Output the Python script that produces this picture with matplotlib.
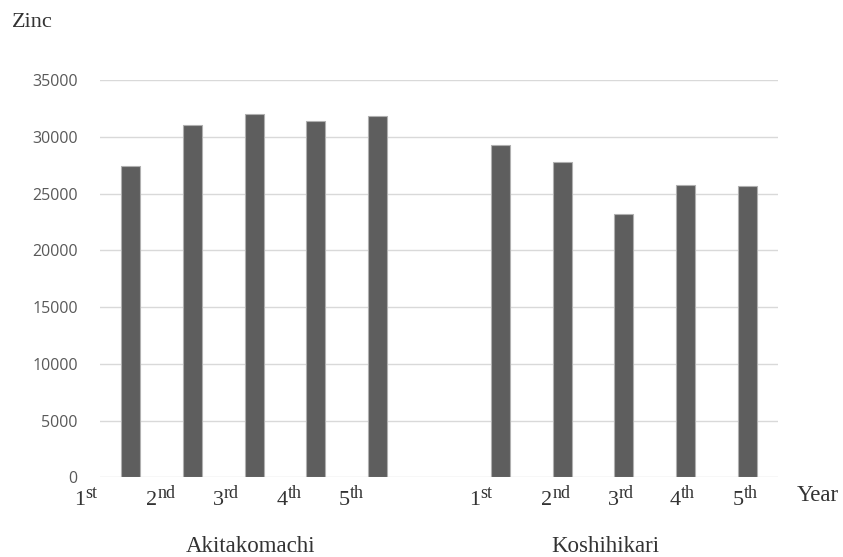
import numpy as np
import matplotlib
matplotlib.use("Agg")
from matplotlib import pyplot as plt
from matplotlib import transforms

# zinc content per year for each rice variety
years = ["1", "2", "3", "4", "5"]
suffixes = ["st", "nd", "rd", "th", "th"]
varieties = ["Akitakomachi", "Koshihikari"]
akitakomachi = [27400, 31000, 31980, 31420, 31850]
koshihikari = [29250, 27800, 23200, 25780, 25640]
yticks = [0, 5000, 10000, 15000, 20000, 25000, 30000, 35000]

# slot positions: five bars, one empty slot, five bars
bar_pos = list(range(5)) + list(range(6, 11))
values = akitakomachi + koshihikari

# where each year label and group name sits along x
year_label_x = [-0.74, 0.43, 1.51, 2.54, 3.56, 5.665, 6.84, 7.92, 8.93, 9.95]
group_label_x = [1.95, 7.69]

serif = "Liberation Serif"
txt_color = "#333333"

fig = plt.figure(figsize=(8.43, 5.57), dpi=100)
ax = fig.add_axes([0.1186, 0.1431, 0.8043, 0.7133])

ax.bar(bar_pos, values, width=0.31, color="#5e5e5e", edgecolor="#b0b0b0",
       linewidth=0.8, zorder=3)

ax.set_xlim(-0.5, 10.5)
ax.set_ylim(0, 35000)
ax.set_yticks(yticks)
ax.set_yticklabels([str(v) for v in yticks], fontfamily="Open Sans",
                   fontsize=11.5, color="#595959")
ax.tick_params(axis="y", length=0, pad=16)
ax.set_xticks([])
ax.grid(axis="y", color="#d9d9d9", linewidth=1.0, zorder=0)
for s in ax.spines.values():
    s.set_visible(False)

trans = transforms.blended_transform_factory(ax.transData, ax.transAxes)

# ordinal year labels, number and raised suffix drawn separately
labels = list(zip(years, suffixes)) * 2
for x, (num, suf) in zip(year_label_x, labels):
    ax.text(x, -0.0705, num, transform=trans, ha="right", va="baseline",
            fontfamily=serif, fontsize=16, color=txt_color)
    ax.text(x, -0.052, suf, transform=trans, ha="left", va="baseline",
            fontfamily=serif, fontsize=13, color=txt_color)

ax.text(10.81, -0.06, "Year", transform=trans, ha="left", va="baseline",
        fontfamily=serif, fontsize=16.5, color=txt_color)

for x, name in zip(group_label_x, varieties):
    ax.text(x, -0.188, name, transform=trans, ha="center", va="baseline",
            fontfamily=serif, fontsize=16.5, color=txt_color)

ax.text(-0.13, 1.133, "Zinc", transform=ax.transAxes, ha="left",
        va="baseline", fontfamily=serif, fontsize=16, color=txt_color)

fig.savefig("out.png", dpi=100)
